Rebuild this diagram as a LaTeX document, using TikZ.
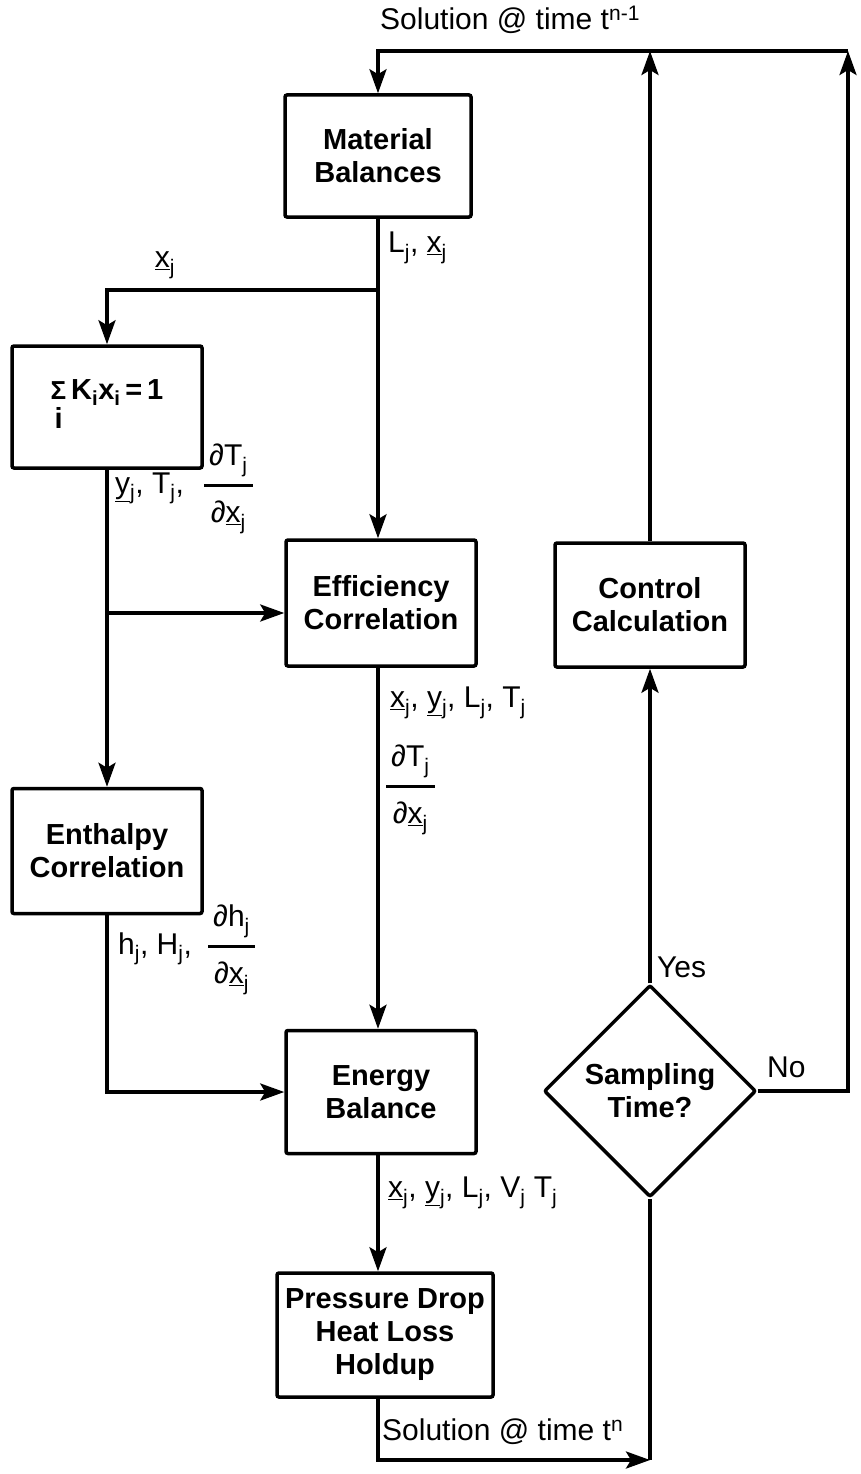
\documentclass[tikz,border=0pt]{standalone}
\usepackage{fontspec}
\setmainfont{Liberation Sans}
\usetikzlibrary{arrows.meta,shapes.geometric}
\setlength{\arrayrulewidth}{2.5pt}
\newcommand{\ulx}{\underline{x}\textsubscript{j}}
\newcommand{\uly}{\underline{y}\textsubscript{j}}
\newcommand{\jsub}[1]{#1\textsubscript{j}}
\newcommand{\pfrac}[2]{\begin{tabular}[c]{@{\,}c@{\,}}#1\\[8pt]\hline\rule{0pt}{1.2em}#2\end{tabular}}
\tikzset{
  box/.style={draw, line width=3.5pt, rounded corners=2pt, align=center, inner sep=0pt,
    font=\fontsize{29}{33}\selectfont\bfseries},
  lbl/.style={inner sep=0pt, font=\fontsize{30}{36}\selectfont},
  wire/.style={line width=3.5pt},
  flow/.style={wire, -{Stealth[length=24pt,width=17pt,inset=5pt]}}
}

\begin{document}
\begin{tikzpicture}[x=1pt, y=-1pt]
  \useasboundingbox (0,0) rectangle (861,1474);

  % boxes
  \node[box, minimum width=186pt, minimum height=122pt] (matbal) at (378,156) {Material\\Balances};
  \node[box, minimum width=190pt, minimum height=122pt] (sumk) at (107,407)
    {\begin{tabular}[t]{@{}c@{}}{\fontsize{26}{26}\selectfont Σ}\\[-4pt] i\end{tabular}\,K\textsubscript{i}x\textsubscript{i}\,=\,1};
  \node[box, minimum width=190pt, minimum height=126pt] (effcor) at (381,603) {Efficiency\\Correlation};
  \node[box, minimum width=190pt, minimum height=124pt] (ctrlcalc) at (650,605) {Control\\Calculation};
  \node[box, minimum width=190pt, minimum height=125pt] (enthcor) at (107,851) {Enthalpy\\Correlation};
  \node[box, minimum width=190pt, minimum height=123pt] (enbal) at (381,1092) {Energy\\Balance};
  \node[box, minimum width=216pt, minimum height=124pt] (pdrop) at (385,1335) {Pressure Drop\\Heat Loss\\Holdup};
  \node[box, shape=diamond, aspect=1, minimum width=212pt, minimum height=212pt] (samp) at (650,1091) {Sampling\\Time?};

  % junctions
  \coordinate (topL) at (378,51);
  \coordinate (topR) at (848,51);
  \coordinate (splitA) at (378,290);
  \coordinate (splitB) at (107,613);
  \coordinate (botR) at (650,1460);

  % connectors
  \draw[flow] (topR) -- (topL) -- (matbal.north);
  \draw[flow] (matbal.south) -- (effcor.north -| matbal.south);
  \draw[flow] (splitA) -- (splitA -| sumk.north) -- (sumk.north);
  \draw[flow] (sumk.south) -- (enthcor.north);
  \draw[flow] (splitB) -- (splitB -| effcor.west);
  \draw[flow] (effcor.south -| matbal.south) -- (enbal.north -| matbal.south);
  \draw[flow] (enthcor.south) |- (enbal.west);
  \draw[flow] (enbal.south -| matbal.south) -- (pdrop.north -| matbal.south);
  \draw[flow] (pdrop.south -| matbal.south) |- (botR);
  \draw[wire] (botR) -- (samp.south);
  \draw[flow] (samp.north) -- (ctrlcalc.south);
  \draw[flow] (ctrlcalc.north) -- (ctrlcalc.north |- topL);
  \draw[flow] (samp.east) -| (topR);

  % labels
  \node[lbl, anchor=west] (lbltop) at (380,20) {Solution @ time t\textsuperscript{n-1}};
  \node[lbl] (lblxj) at (165,265) {\ulx};
  \node[lbl, anchor=west] (lblmat) at (388,248) {\jsub{L}, \ulx};
  \node[lbl, anchor=west] (lblsum) at (115,487) {\uly, \jsub{T}, \hspace{12pt}\pfrac{∂\jsub{T}}{∂\ulx}};
  \node[lbl, anchor=west] (lbleff) at (390,703) {\ulx, \uly, \jsub{L}, \jsub{T}};
  \node[lbl, anchor=west] (lbleffd) at (386,788) {\pfrac{∂\jsub{T}}{∂\ulx}};
  \node[lbl, anchor=west] (lblenth) at (118,948) {\jsub{h}, \jsub{H}, \hspace{8pt}\pfrac{∂\jsub{h}}{∂\ulx}};
  \node[lbl, anchor=west] (lblen) at (388,1193) {\ulx, \uly, \jsub{L}, \jsub{V} \jsub{T}};
  \node[lbl, anchor=west] (lblbot) at (382,1432) {Solution @ time t\textsuperscript{n}};
  \node[lbl, anchor=west] (lblyes) at (657,967) {Yes};
  \node[lbl, anchor=west] (lblno) at (767,1067) {No};
\end{tikzpicture}
\end{document}
